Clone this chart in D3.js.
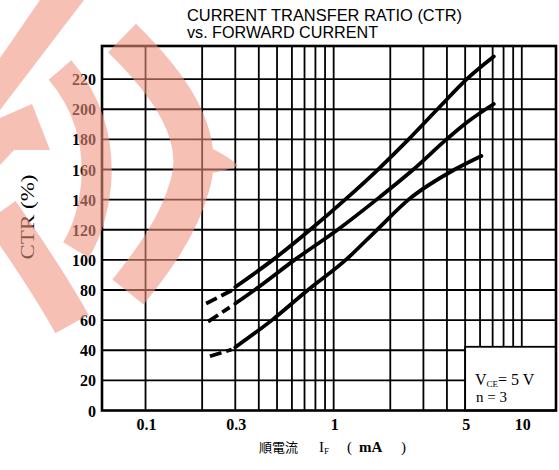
<!DOCTYPE html>
<html><head><meta charset="utf-8">
<script src="https://cdn.jsdelivr.net/npm/d3@7/dist/d3.min.js"></script>
<style>html,body{margin:0;padding:0;background:#fff}svg{display:block}</style>
</head><body>
<svg id="chart" width="559" height="470"></svg>
<script>
// ---- data ----
const titleLines = ["CURRENT  TRANSFER  RATIO (CTR)", "vs. FORWARD  CURRENT"];
const xTickValues = [0.1, 0.3, 1, 5, 10];
const xTickLabels = ["0.1", "0.3", "1", "5", "10"];
const xGridValues = [0.1, 0.2, 0.3, 0.4, 0.5, 0.6, 0.7, 0.8, 0.9, 1, 2, 3, 4, 5, 6, 7, 8, 9, 10];
const yTickValues = [0, 20, 40, 60, 80, 100, 120, 140, 160, 180, 200, 220];
const upperDashed = [[0.21, 71], [0.29, 80]];
const upperSolid = [[0.3, 82], [0.475, 100], [0.75, 120], [1.15, 140], [1.72, 160], [2.5, 180], [3.56, 200], [5.1, 220], [7.1, 235]];
const middleDashed = [[0.215, 59], [0.28, 68.5]];
const middleSolid = [[0.3, 71], [0.38, 80], [0.62, 100], [1.05, 120], [1.69, 140], [2.65, 160], [3.98, 180], [5.2, 192], [7.1, 203.5]];
const lowerDashed = [[0.22, 36], [0.287, 40.5]];
const lowerSolid = [[0.3, 42], [0.47, 60], [0.73, 80], [1.16, 100], [1.7, 120], [2.5, 140], [4.4, 160], [6.1, 169]];
const conditionLines = ["V", "CE", "= 5  V", "n = 3"];

// ---- layout ----
const svg = d3.select("#chart");
const x = d3.scaleLog().domain([0.0587, 15.2]).range([102, 556]);
const y = d3.scaleLinear().domain([0, 242]).range([410.5, 46]);
const legendXMin = 5, legendYMax = 42.3;
const serif = "Liberation Serif, 'DejaVu Serif', serif";

// grid
const grid = svg.append("g").attr("stroke", "#000").attr("stroke-width", 1.8);
grid.selectAll("line.v").data(xGridValues).join("line")
  .attr("x1", d => x(d)).attr("x2", d => x(d))
  .attr("y1", y(0)).attr("y2", y.range()[1]);
grid.selectAll("line.h").data(yTickValues.filter(d => d > 0)).join("line")
  .attr("x1", x.range()[0]).attr("x2", x.range()[1])
  .attr("y1", d => y(d)).attr("y2", d => y(d));

// legend box
svg.append("rect")
  .attr("x", x(legendXMin)).attr("y", y(legendYMax))
  .attr("width", x.range()[1] - x(legendXMin)).attr("height", y(0) - y(legendYMax))
  .attr("fill", "#fff").attr("stroke", "#000").attr("stroke-width", 1.8);

// frame
svg.append("rect")
  .attr("x", x.range()[0]).attr("y", y.range()[1])
  .attr("width", x.range()[1] - x.range()[0]).attr("height", y.range()[0] - y.range()[1])
  .attr("fill", "none").attr("stroke", "#000").attr("stroke-width", 2.6);

// curves
const line = d3.line().x(d => x(d[0])).y(d => y(d[1])).curve(d3.curveMonotoneX);
const curves = svg.append("g").attr("fill", "none").attr("stroke", "#000").attr("stroke-width", 3.8);
[upperSolid, middleSolid, lowerSolid].forEach(s => curves.append("path").attr("d", line(s)).attr("stroke-linecap", "round"));
[upperDashed, middleDashed, lowerDashed].forEach(s => curves.append("path").attr("d", line(s)).attr("stroke-dasharray", "12,5"));

// y tick labels
svg.append("g").selectAll("text").data(yTickValues).join("text")
  .attr("x", 96).attr("y", d => y(d) + 6)
  .attr("text-anchor", "end")
  .attr("font-family", serif).attr("font-weight", "bold").attr("font-size", 16)
  .text(d => d);

// x tick labels
svg.append("g").selectAll("text").data(xTickValues).join("text")
  .attr("x", d => x(d) + 1).attr("y", 430)
  .attr("text-anchor", "middle")
  .attr("font-family", serif).attr("font-weight", "bold").attr("font-size", 16)
  .text((d, i) => xTickLabels[i]);

// title
svg.append("text").attr("x", 187).attr("y", 21)
  .attr("font-family", "Liberation Sans, Arial, sans-serif").attr("font-size", 16)
  .attr("textLength", 275).attr("lengthAdjust", "spacingAndGlyphs").text(titleLines[0]);
svg.append("text").attr("x", 187).attr("y", 38)
  .attr("font-family", "Liberation Sans, Arial, sans-serif").attr("font-size", 16)
  .attr("textLength", 191).attr("lengthAdjust", "spacingAndGlyphs").text(titleLines[1]);

// y axis title
svg.append("text").attr("transform", "translate(34,217) rotate(-90)")
  .attr("text-anchor", "middle")
  .attr("font-family", serif).attr("font-size", 19)
  .attr("textLength", 85).attr("lengthAdjust", "spacingAndGlyphs").text("CTR (%)");

// x axis title
const xt = svg.append("text").attr("y", 452).attr("font-size", 15).attr("font-family", serif);
xt.append("tspan").attr("x", 259).attr("font-family", "'Noto Sans CJK JP', sans-serif").attr("font-size", 13).text("順電流");
xt.append("tspan").attr("x", 319).text("I");
xt.append("tspan").attr("font-size", 9).attr("dy", 2).text("F");
xt.append("tspan").attr("x", 347).attr("dy", -2).text("(");
xt.append("tspan").attr("x", 359).attr("font-weight", "bold").text("mA");
xt.append("tspan").attr("x", 401).text(")");

// condition text
const ct = svg.append("text").attr("x", 475).attr("y", 385).attr("font-family", serif).attr("font-size", 16);
ct.append("tspan").text(conditionLines[0]);
ct.append("tspan").attr("font-size", 9).attr("dy", 2).text(conditionLines[1]);
ct.append("tspan").attr("dy", -2).text(conditionLines[2]);
svg.append("text").attr("x", 476).attr("y", 402).attr("font-family", serif).attr("font-size", 15)
  .text(conditionLines[3]);

// watermark (decorative overlay, semi-transparent on top)
const wmColor = "#f09380";
const wm = svg.append("g").attr("opacity", 0.58);
wm.append("path").attr("fill", wmColor).attr("d", "M40,0 L84,0 L0,110 L0,58 Z");
wm.append("path").attr("fill", "none").attr("stroke", wmColor).attr("stroke-width", 40)
  .attr("d", "M122,38 C170,85 205,135 190,185 C178,228 152,262 128,292");
wm.append("path").attr("fill", wmColor).attr("d", "M195,140 C215,150 232,158 238,166 C222,172 206,174 196,176 Z");
wm.append("path").attr("fill", "none").attr("stroke", wmColor).attr("stroke-width", 30)
  .attr("d", "M60,70 C86,100 100,140 96,185 C93,215 85,235 76,250");
wm.append("path").attr("fill", wmColor).attr("d", "M0,118 L32,104 L50,150 L14,150 L0,165 Z");
wm.append("path").attr("fill", "none").attr("stroke", wmColor).attr("stroke-width", 38)
  .attr("d", "M0,212 C28,252 52,288 72,324");
</script>
</body></html>
